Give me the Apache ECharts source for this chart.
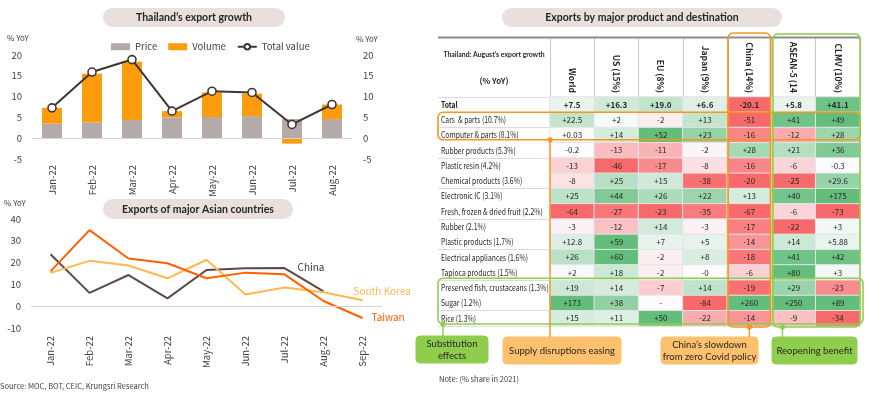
<!DOCTYPE html>
<html>
<head>
<meta charset="utf-8">
<script src="https://cdn.jsdelivr.net/npm/echarts@6/dist/echarts.min.js"></script>
<style>
  html, body { margin: 0; padding: 0; background: #fff; }
  #main { width: 870px; height: 396px; }
</style>
</head>
<body>
<div id="main"></div>
<script>
const FONT = '"Noto Sans CJK SC", Lato, sans-serif'
const LATO = 'Lato, "Open Sans", sans-serif'

// Thailand's export growth (% YoY)
const months1 = ['Jan-22', 'Feb-22', 'Mar-22', 'Apr-22', 'May-22', 'Jun-22', 'Jul-22', 'Aug-22']
const price = [3.5, 3.8, 4.4, 5.0, 5.1, 5.3, 4.6, 4.6]
const volume = [3.8, 11.7, 14.0, 1.5, 5.9, 5.4, -1.3, 3.5]
const totalValue = [7.3, 15.9, 18.9, 6.5, 11.3, 11.0, 3.3, 8.1]

// Exports of major Asian countries (% YoY)
const months2 = ['Jan-22', 'Feb-22', 'Mar-22', 'Apr-22', 'May-22', 'Jun-22', 'Jul-22', 'Aug-22', 'Sep-22']
const china = [23.8, 6.1, 14.3, 3.6, 16.6, 17.4, 17.5, 6.8]
const southKorea = [15.3, 20.8, 18.7, 12.8, 21.3, 5.4, 8.6, 6.4, 2.7]
const taiwan = [16.0, 34.9, 21.9, 19.7, 12.8, 15.4, 14.6, 2.4, -5.4]

// Exports by major product and destination
const destinations = ['World', 'US (15%)', 'EU (8%)', 'Japan (9%)', 'China (14%)', 'ASEAN-5 (14%)', 'CLMV (10%)']
const products = ['Total', 'Cars  & parts (10.7%)', 'Computer & parts (8.1%)', 'Rubber products (5.3%)',
  'Plastic resin (4.2%)', 'Chemical products (3.6%)', 'Electronic IC (3.1%)', 'Fresh, frozen & dried fruit (2.2%)',
  'Rubber (2.1%)', 'Plastic products (1.7%)', 'Electrical appliances (1.6%)', 'Tapioca products (1.5%)',
  'Preserved fish, crustaceans (1.3%)', 'Sugar (1.2%)', 'Rice (1.3%)']
const world = ['+7.5', '+22.5', '+0.03', '-0.2', '-13', '-8', '+25', '-64', '-3', '+12.8', '+26', '+2', '+19', '+173', '+15']
const us = ['+16.3', '+2', '+14', '-13', '-46', '+25', '+44', '-27', '-12', '+59', '+60', '+18', '+14', '+38', '+11']
const eu = ['+19.0', '-2', '+52', '-11', '-17', '+15', '+26', '-23', '+14', '+7', '-2', '-2', '-7', '-', '+50']
const japan = ['+6.6', '+13', '+23', '-2', '-8', '-38', '+22', '-35', '-3', '+5', '+8', '-0', '+14', '-84', '-22']
const chinaDest = ['-20.1', '-51', '-16', '+28', '-16', '-20', '+13', '-67', '-17', '-14', '-18', '-6', '-19', '+260', '-14']
const asean5 = ['+5.8', '+41', '-12', '+21', '-6', '-25', '+40', '-6', '-22', '+14', '+41', '+80', '+29', '+250', '-9']
const clmv = ['+41.1', '+49', '+28', '+36', '-0.3', '+29.6', '+175', '-73', '+3', '+5.88', '+42', '+3', '-23', '+89', '-34']

const columns = [world, us, eu, japan, chinaDest, asean5, clmv]
// value at which each column's colour saturates (red side, green side)
const colourSpan = [[-45, 60], [-30, 55], [-22, 50], [-40, 35], [-20, 50], [-22, 45], [-30, 45]]

const TABLE = { left: 550, top: 97, width: 310, height: 229 }
const cellW = TABLE.width / destinations.length
const cellH = TABLE.height / products.length
const colX = i => TABLE.left + i * cellW
const rowY = i => TABLE.top + i * cellH

const heatData = []
columns.forEach((col, c) => {
  col.forEach((txt, r) => {
    const v = parseFloat(txt)
    const [lo, hi] = colourSpan[c]
    const tone = isNaN(v) ? 0 : (v >= 0 ? Math.min(1, v / hi) : -Math.min(1, v / lo))
    const item = { name: txt, value: [c, r, tone] }
    if (r === 0) item.label = { fontWeight: 'bold' }
    heatData.push(item)
  })
})

const ORANGE = '#f7961e'
const GREEN = '#8fce4c'

const pill = (x, y, w, h, text) => [
  { type: 'rect', z: 50, shape: { x, y, width: w, height: h, r: h / 2 }, style: { fill: '#e9dfdd' } },
  { type: 'text', z: 51, x: x + w / 2, y: y + h / 2 + 0.5,
    style: { text, align: 'center', verticalAlign: 'middle', fontFamily: LATO, fontWeight: 'bold', fontSize: 10.5, fill: '#262626' } }
]
const note = (x, y, w, h, fill, text) => [
  { type: 'rect', z: 50, shape: { x, y, width: w, height: h, r: 4 }, style: { fill, stroke: fill, lineWidth: 1 } },
  { type: 'text', z: 51, x: x + w / 2, y: y + h / 2 + 0.5,
    style: { text, align: 'center', verticalAlign: 'middle', fontFamily: LATO, fontSize: 9.5, lineHeight: 12, fill: '#262626' } }
]
const frame = (x, y, w, h, stroke) => ({ type: 'rect', z: 60, shape: { x, y, width: w, height: h, r: 5 }, style: { fill: 'none', stroke, lineWidth: 1.6 } })
const dot = (cx, cy, fill) => ({ type: 'circle', z: 61, shape: { cx, cy, r: 2.6 }, style: { fill } })
const link = (x1, y1, x2, y2, stroke) => ({ type: 'line', z: 59, shape: { x1, y1, x2, y2 }, style: { stroke, lineWidth: 1.4 } })
const plain = (x, y, text, size, extra) => ({ type: 'text', z: 51, x, y,
  style: Object.assign({ text, fontFamily: FONT, fontSize: size, fill: '#404040', verticalAlign: 'middle' }, extra || {}) })

const tableBottom = rowY(products.length)
const graphics = [].concat(
  pill(103, 8, 182, 19, 'Thailand’s export growth'),
  pill(103, 199, 190, 20, 'Exports of major Asian countries'),
  pill(502, 8, 280, 19, 'Exports by major product and destination'),
  [
    plain(7, 38, '% YoY', 8),
    plain(356, 39, '% YoY', 8),
    plain(4, 203, '% YoY', 8),
    plain(0, 386, 'Source: MOC, BOT, CEIC, Krungsri Research', 7.5),
    plain(439, 379, 'Note: (% share in 2021)', 7.5),
    Object.assign(plain(494, 54, 'Thailand: August’s export growth', 8, { align: 'center', fontWeight: 'bold', fontFamily: LATO, fill: '#262626' }), { scaleX: 0.86 }),
    plain(494, 81, '(% YoY)', 8, { align: 'center', fontWeight: 'bold', fill: '#262626' }),
    { type: 'line', z: 40, shape: { x1: 438, y1: 37.5, x2: colX(7), y2: 37.5 }, style: { stroke: '#8c8c8c', lineWidth: 2 } },
    // supply disruptions: cars & computers
    frame(438, rowY(1), colX(7) - 438, rowY(3) - rowY(1) - 3, ORANGE),
    link(colX(0), rowY(3) - 3, colX(0), 337, ORANGE),
    dot(colX(0), rowY(3) - 3, ORANGE),
    // China column
    frame(colX(4) + 1, 33, cellW - 2, tableBottom - 33 + 1, ORANGE),
    link(colX(4) + cellW / 2, tableBottom + 1, colX(4) + cellW / 2, 337, ORANGE),
    dot(colX(4) + cellW / 2, tableBottom + 1, ORANGE),
    // ASEAN-5 & CLMV
    frame(colX(5) + 1.5, 34, colX(7) - colX(5) - 1.5, tableBottom - 34 + 1, GREEN),
    link(colX(5) + 11, tableBottom + 1, colX(5) + 11, 337, GREEN),
    dot(colX(5) + 11, tableBottom + 1, GREEN),
    // preserved fish, sugar, rice
    frame(438, rowY(12) - 2, colX(7) + 3 - 438, rowY(15) - rowY(12), GREEN),
    link(443, rowY(15) - 2, 443, 336, GREEN),
    dot(443, rowY(15) - 2, GREEN)
  ],
  note(416, 336, 72, 27, GREEN, 'Substitution\neffects'),
  note(503, 337, 118, 27, '#fdc06c', 'Supply disruptions easing'),
  note(661, 337, 97, 27, '#fdc06c', 'China’s slowdown\nfrom zero Covid policy'),
  note(772, 337, 85, 27, GREEN, 'Reopening benefit')
)

const axisText = { fontFamily: FONT, fontSize: 9.5, color: '#404040' }
const zeroLine = {
  silent: true, symbol: ['none', 'none'], label: { show: false },
  lineStyle: { color: '#d4d4d4', type: 'solid', width: 1 },
  data: [{ yAxis: 0 }]
}

const option = {
  animation: false,
  backgroundColor: '#fff',
  textStyle: { fontFamily: FONT },
  grid: [
    { left: 32, top: 55, width: 320, height: 104 },
    { left: 31, top: 219, width: 351, height: 109 },
    { left: TABLE.left, top: TABLE.top, width: TABLE.width, height: TABLE.height }
  ],
  legend: {
    left: 106, top: 37, itemGap: 11, itemWidth: 19, itemHeight: 7,
    textStyle: { fontFamily: FONT, fontSize: 9.5, color: '#404040' },
    data: [{ name: 'Price', icon: 'rect' }, { name: 'Volume', icon: 'rect' }, 'Total value']
  },
  xAxis: [
    { type: 'category', gridIndex: 0, data: months1, axisLine: { show: false, onZero: false }, axisTick: { show: false },
      axisLabel: Object.assign({ rotate: 90, margin: 6 }, axisText) },
    { type: 'category', gridIndex: 1, data: months2, axisLine: { show: false, onZero: false }, axisTick: { show: false },
      axisLabel: Object.assign({ rotate: 90, margin: 8 }, axisText) },
    { type: 'category', gridIndex: 2, data: destinations, position: 'top',
      axisLine: { lineStyle: { color: '#bfbfbf' } },
      axisTick: { show: true, length: 60, lineStyle: { color: '#c8c8c8' } },
      axisLabel: { rotate: 90, margin: 4, fontFamily: FONT, fontWeight: 'bold', fontSize: 8.5, color: '#262626',
        width: 56, overflow: 'truncate', ellipsis: '' } }
  ],
  yAxis: [
    { type: 'value', gridIndex: 0, min: -5, max: 20, interval: 5, splitLine: { show: false },
      axisLabel: Object.assign({ margin: 10 }, axisText) },
    { type: 'value', gridIndex: 0, position: 'right', min: -5, max: 20, interval: 5, splitLine: { show: false },
      axisLabel: Object.assign({ margin: 11 }, axisText) },
    { type: 'value', gridIndex: 1, min: -10, max: 40, interval: 10, splitLine: { show: false },
      axisLabel: Object.assign({ margin: 10 }, axisText) },
    { type: 'category', gridIndex: 2, data: products, inverse: true,
      axisLine: { show: true, lineStyle: { color: '#bfbfbf' } },
      axisTick: { show: true, length: 112, lineStyle: { color: '#dcdcdc' } },
      axisLabel: { show: false } }
  ],
  visualMap: [{
    type: 'continuous', show: false, seriesIndex: 6, dimension: 2, min: -1, max: 1,
    inRange: { color: ['#f8696b', '#fcfcff', '#63be7b'] }
  }],
  series: [
    { name: 'Price', type: 'bar', xAxisIndex: 0, yAxisIndex: 0, stack: 'exp', barWidth: 20,
      itemStyle: { color: '#b4aaa7' }, data: price, markLine: zeroLine },
    { name: 'Volume', type: 'bar', xAxisIndex: 0, yAxisIndex: 0, stack: 'exp', barWidth: 20,
      itemStyle: { color: '#fd9c0c' }, data: volume },
    { name: 'Total value', type: 'line', xAxisIndex: 0, yAxisIndex: 0, data: totalValue,
      symbol: 'circle', symbolSize: 8, lineStyle: { color: '#3f3533', width: 2 },
      itemStyle: { color: '#fff', borderColor: '#3f3533', borderWidth: 1.6 } },
    { name: 'China', type: 'line', xAxisIndex: 1, yAxisIndex: 2, data: china, symbol: 'none',
      lineStyle: { color: '#5a4b48', width: 2 }, itemStyle: { color: '#5a4b48' }, markLine: zeroLine,
      endLabel: { show: true, formatter: 'China', offset: [-34, -24], fontFamily: FONT, fontSize: 10, color: '#3a3a3a' } },
    { name: 'South Korea', type: 'line', xAxisIndex: 1, yAxisIndex: 2, data: southKorea, symbol: 'none',
      lineStyle: { color: '#fdb94f', width: 2 }, itemStyle: { color: '#fdb94f' },
      endLabel: { show: true, formatter: 'South Korea', offset: [-17, -9], fontFamily: FONT, fontSize: 10, color: '#fdb94f' } },
    { name: 'Taiwan', type: 'line', xAxisIndex: 1, yAxisIndex: 2, data: taiwan, symbol: 'none',
      lineStyle: { color: '#ff6000', width: 2 }, itemStyle: { color: '#ff6000' },
      endLabel: { show: true, formatter: 'Taiwan', offset: [1, -1], fontFamily: FONT, fontSize: 10, color: '#ff6000' } },
    { name: 'Growth', type: 'heatmap', xAxisIndex: 2, yAxisIndex: 3, data: heatData,
      itemStyle: { borderColor: '#e4e4e4', borderWidth: 1 },
      emphasis: { disabled: true },
      label: { show: true, formatter: p => p.name, fontFamily: FONT, fontSize: 8, color: '#262626' } },
    { name: 'Products', type: 'custom', xAxisIndex: 2, yAxisIndex: 3, silent: true, clip: false,
      data: products.map((p, i) => [0, i]),
      renderItem: (params, api) => {
        const pt = api.coord([0, api.value(1)])
        return {
          type: 'text', x: TABLE.left - 109, y: pt[1], scaleX: 0.8,
          style: { text: products[params.dataIndex], fontFamily: FONT, fontSize: 8.5,
            fontWeight: params.dataIndex === 0 ? 'bold' : 'normal', fill: '#262626', align: 'left', verticalAlign: 'middle' }
        }
      } }
  ],
  graphic: graphics
}

const chart = echarts.init(document.getElementById('main'), null, { renderer: 'canvas' })
chart.setOption(option)
</script>
</body>
</html>
